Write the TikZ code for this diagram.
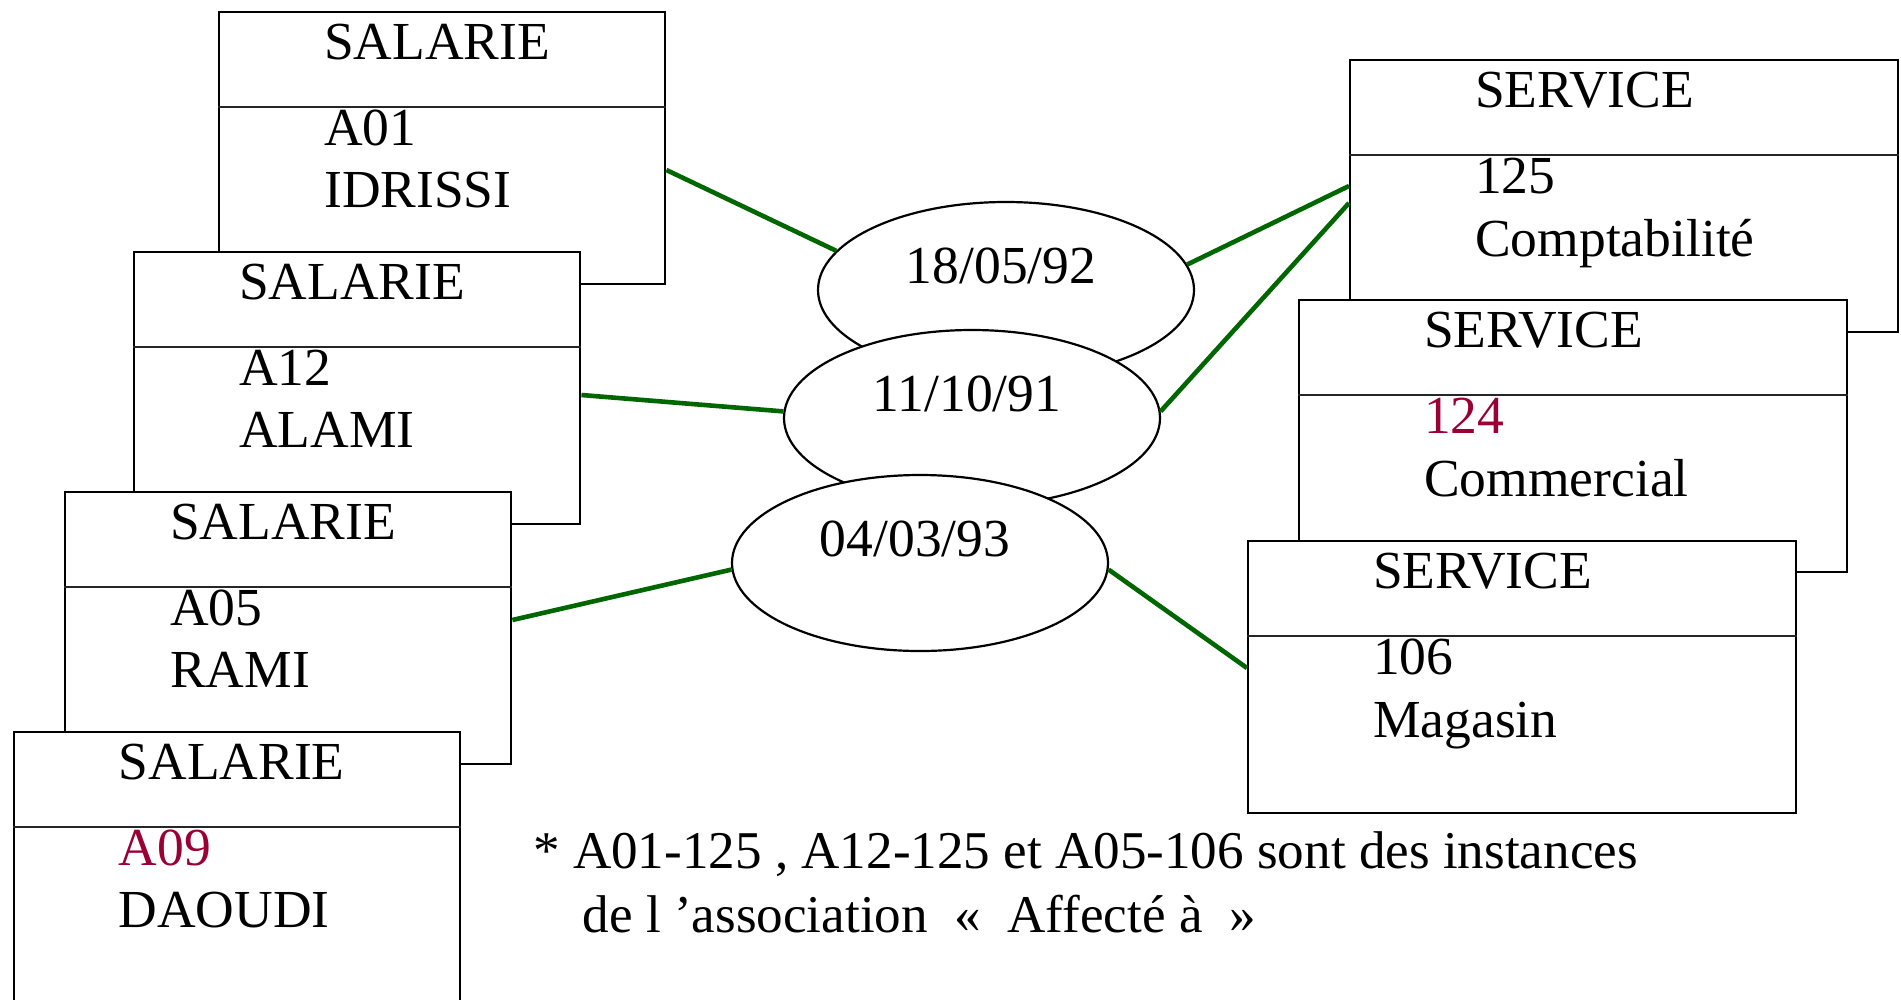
\documentclass[tikz,border=0pt]{standalone}
\usepackage{fontspec}
\setmainfont{Liberation Serif}
\usetikzlibrary{shapes.geometric}

\definecolor{linkgreen}{RGB}{0,102,0}
\definecolor{keyred}{RGB}{153,0,51}

\tikzset{
  entbox/.style={draw=black, line width=2.4pt, fill=white, anchor=north west,
    inner sep=0pt, minimum height=272pt},
  salbox/.style={entbox, minimum width=446pt},
  srvbox/.style={entbox, minimum width=548pt},
  divider/.style={draw=black!85, line width=1.8pt},
  txt/.style={anchor=base west, inner sep=0pt, font=\fontsize{53.5}{64}\selectfont},
  notetxt/.style={txt, font=\fontsize{53.1}{64}\selectfont},
  occ/.style={ellipse, draw=black, line width=2.2pt, fill=white,
    minimum width=376pt, minimum height=176pt, inner sep=0pt,
    text height=35pt, text depth=49pt, font=\fontsize{53.5}{64}\selectfont},
  link/.style={draw=linkgreen, line width=4.6pt},
}

% entity occurrence: name, x, y, key, key colour, label
\newcommand\salarie[6]{%
  \node[salbox] (#1) at (#2,#3) {};
  \draw[divider] ([yshift=-96pt]#1.north west) -- ([yshift=-96pt]#1.north east);
  \node[txt] (#1-t) at ([shift={(106,48)}]#1.north west) {SALARIE};
  \node[txt, text=#5] (#1-k) at ([shift={(106,134)}]#1.north west) {#4};
  \node[txt] (#1-n) at ([shift={(106,196)}]#1.north west) {#6};
}
\newcommand\service[6]{%
  \node[srvbox] (#1) at (#2,#3) {};
  \draw[divider] ([yshift=-96pt]#1.north west) -- ([yshift=-96pt]#1.north east);
  \node[txt] (#1-t) at ([shift={(126,48)}]#1.north west) {SERVICE};
  \node[txt, text=#5] (#1-k) at ([shift={(126,134)}]#1.north west) {#4};
  \node[txt] (#1-n) at ([shift={(126,197)}]#1.north west) {#6};
}

\begin{document}
\begin{tikzpicture}[x=1pt, y=-1pt]
\useasboundingbox (0,0) rectangle (1901,999);
\fill[white] (0,0) rectangle (1901,999);
\clip (0,0) rectangle (1901,999);

% SALARIE occurrences
\salarie{b1}{218}{11}{A01}{black}{IDRISSI}
\salarie{b2}{133}{251}{A12}{black}{ALAMI}
\salarie{b3}{64}{491}{A05}{black}{RAMI}
\salarie{b4}{12.5}{731}{A09}{keyred}{DAOUDI}

% SERVICE occurrences
\service{s1}{1349}{59}{125}{black}{Comptabilité}
\service{s2}{1298}{299}{124}{keyred}{Commercial}
\service{s3}{1247}{540}{106}{black}{Magasin}

% association occurrences (dates)
\node[occ] (e1) at (1006,290) {18/05/92\kern10pt};
\node[occ] (e2) at (972,418) {11/10/91\kern10pt};
\node[occ] (e3) at (920,563) {04/03/93\kern10pt};

% links
\draw[link] ([yshift=-159pt]b1.north east) -- (e1.167);
\draw[link] (e1.8.5) -- ([yshift=-127pt]s1.north west);
\draw[link] (e2.2) -- ([yshift=-144pt]s1.north west);
\draw[link] ([yshift=-144pt]b2.north east) -- (e2.178);
\draw[link] ([yshift=-129pt]b3.north east) -- (e3.182);
\draw[link] (e3.-2) -- ([yshift=-128pt]s3.north west);

% note
\node[notetxt] (note1) at (533,868) {* A01-125 , A12-125 et A05-106 sont des instances};
\node[notetxt] (note2) at (582.6,932) {de l ’association~~«~~Affecté à~~»};
\end{tikzpicture}
\end{document}
